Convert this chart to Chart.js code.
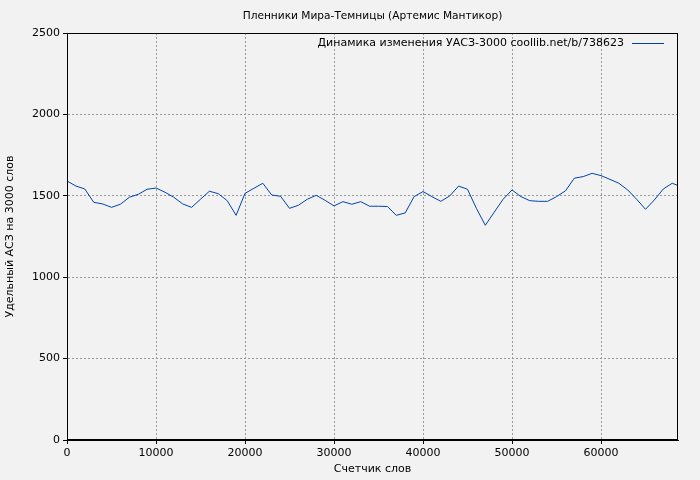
<!DOCTYPE html>
<html><head><meta charset="utf-8">
<script src="https://cdn.jsdelivr.net/npm/chart.js@4"></script>
<style>html,body{margin:0;background:#f2f2f2}#w{width:700px;height:480px}</style>
</head><body><div id="w"><canvas id="c" width="700" height="480"></canvas></div>
<script>
const words = [0,1000,2000,3000,4000,5000,6000,7000,8000,9000,10000,11000,12000,13000,14000,15000,16000,17000,18000,19000,20000,21000,22000,23000,24000,25000,26000,27000,28000,29000,30000,31000,32000,33000,34000,35000,36000,37000,38000,39000,40000,41000,42000,43000,44000,45000,46000,47000,48000,49000,50000,51000,52000,53000,54000,55000,56000,57000,58000,59000,60000,61000,62000,63000,64000,65000,66000,67000,68000,68650];
const uasz = [1591,1560,1542,1460,1450,1429,1448,1491,1509,1540,1548,1522,1491,1450,1429,1479,1528,1513,1470,1380,1515,1546,1577,1505,1497,1423,1442,1479,1503,1472,1438,1464,1448,1464,1436,1436,1434,1380,1395,1495,1526,1495,1466,1499,1560,1540,1423,1319,1399,1479,1536,1495,1470,1466,1466,1495,1530,1608,1618,1638,1624,1601,1577,1536,1479,1417,1475,1542,1577,1563];
const xTicks = [0,10000,20000,30000,40000,50000,60000];
const yTicks = [0,500,1000,1500,2000,2500];
const titleText = 'Пленники Мира-Темницы (Артемис Мантикор)';
const legendText = 'Динамика изменения УАСЗ-3000 coollib.net/b/738623';
const F = 'DejaVu Sans';
const bg = {id:'bg',beforeDraw(c){const x=c.ctx;x.save();x.fillStyle='#f2f2f2';x.fillRect(0,0,c.width,c.height);x.restore();},
 afterDraw(c){const x=c.ctx,a=c.chartArea;x.save();x.strokeStyle='#000';x.lineWidth=1;x.strokeRect(a.left+0.5,a.top+0.5,a.right-a.left-1,a.bottom-a.top-1);
 x.fillStyle='#000';x.textBaseline='middle';
 x.font='10.6px '+F;x.textAlign='center';x.fillText(titleText,(a.left+a.right)/2,16);
 x.font='11px '+F;x.textAlign='right';x.fillText(legendText,a.right-54,43);
 x.strokeStyle='#0044aa';x.beginPath();x.moveTo(a.right-46,43.5);x.lineTo(a.right-14,43.5);x.stroke();x.restore();}};
new Chart(document.getElementById('c'),{type:'line',
 data:{datasets:[{data:words.map((w,i)=>({x:w,y:uasz[i]})),borderColor:'#0044aa',borderWidth:1,pointRadius:0,tension:0}]},
 options:{responsive:false,animation:false,
  layout:{padding:{left:0,right:22,top:33,bottom:0}},
  plugins:{legend:{display:false},tooltip:{enabled:false},title:{display:false}},
  scales:{
   x:{type:'linear',min:0,max:68650,afterBuildTicks:s=>{s.ticks=xTicks.map(v=>({value:v}));},afterFit:s=>{s.height=40;},
      ticks:{autoSkip:false,color:'#000',font:{family:F,size:11},maxRotation:0,callback:v=>String(v)},
      grid:{color:'#999',tickColor:'#000',tickLength:4},border:{color:'#000',dash:[2,2]},
      title:{display:true,text:'Счетчик слов',color:'#000',font:{family:F,size:11},padding:{top:0}}},
   y:{min:0,max:2500,afterBuildTicks:s=>{s.ticks=yTicks.map(v=>({value:v}));},afterFit:s=>{s.width=67;},
      ticks:{color:'#000',font:{family:F,size:11},callback:v=>String(v)},
      grid:{color:'#999',tickColor:'#000',tickLength:4},border:{color:'#000',dash:[2,2]},
      title:{display:true,text:'Удельный АСЗ на 3000 слов',color:'#000',font:{family:F,size:11}}}
  }},plugins:[bg]});
</script></body></html>
